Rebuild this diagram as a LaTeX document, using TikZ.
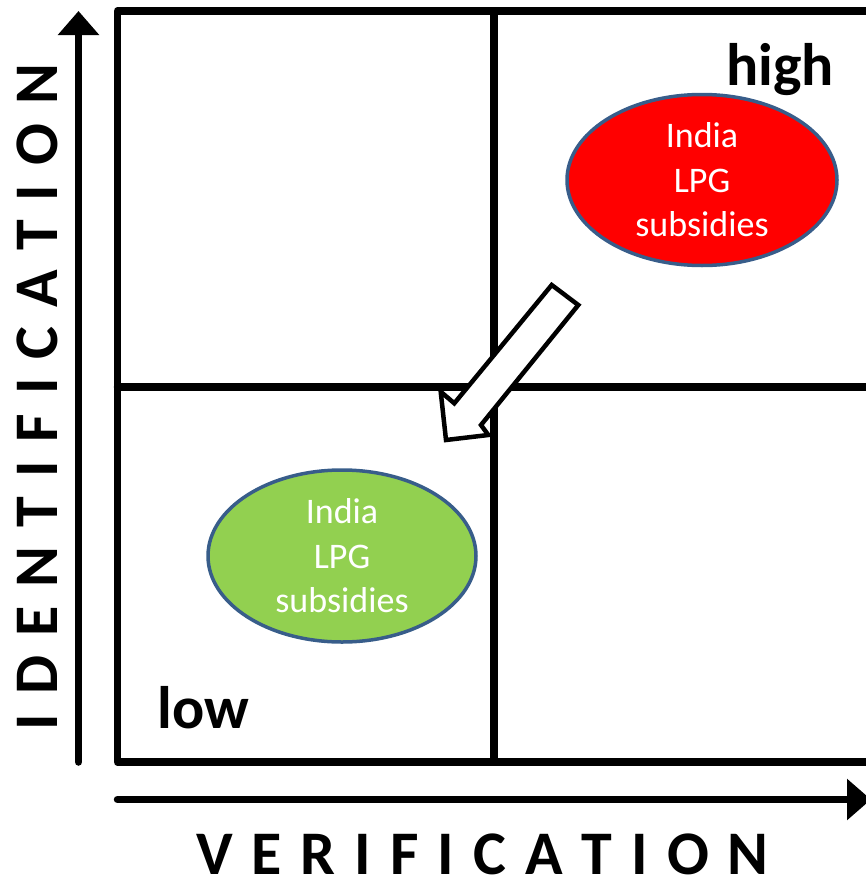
\documentclass[tikz,border=0pt]{standalone}
\usepackage{fontspec}
\setmainfont{Carlito}
\usetikzlibrary{arrows.meta,shapes.geometric}
\definecolor{redfill}{RGB}{255,0,0}
\definecolor{greenfill}{RGB}{146,208,80}
\definecolor{rimblue}{RGB}{56,93,138}
\newcommand{\lsp}{\hspace{19pt}}
\tikzset{
  gridline/.style={line width=7.5pt, line join=round, line cap=round},
  axisline/.style={line width=7.5pt, line cap=round, -{Triangle[width=40pt,length=24pt]}},
  blob/.style={ellipse, draw=rimblue, line width=3.5pt, inner sep=0pt, align=center,
    text=white, font=\fontsize{36}{44.5}\selectfont},
  levellabel/.style={anchor=base, inner sep=0pt, font=\fontsize{60}{60}\selectfont\bfseries},
  axislabel/.style={inner sep=0pt, font=\fontsize{62}{62}\selectfont\bfseries},
  hollow/.style={draw=black, fill=white, line width=4.5pt, line join=miter}
}
\begin{document}
\begin{tikzpicture}[x=1pt, y=-1pt]
\useasboundingbox (0,0) rectangle (866,878);
% grid
\draw[gridline] (880,11) -- (117.5,11) -- (117.5,762) -- (880,762);
\draw[gridline] (494,11) -- (494,762);
\draw[gridline] (117.5,387) -- (880,387);
% axes
\coordinate (ybase) at (78.5,762);
\coordinate (ytip) at (78.5,11);
\coordinate (xbase) at (117.5,799.5);
\coordinate (xtip) at (871,799.5);
\draw[axisline] (ybase) -- (ytip);
\draw[axisline] (xbase) -- (xtip);
% axis labels
\node[axislabel, rotate=90] (ident) at (37,397)
  {I\lsp D\lsp E\lsp N\lsp T\lsp I\lsp F\lsp I\lsp C\lsp A\lsp T\lsp I\lsp O\lsp N};
\node[axislabel] (verif) at (482.5,854)
  {V\lsp E\lsp R\lsp I\lsp F\lsp I\lsp C\lsp A\lsp T\lsp I\lsp O\lsp N};
% level labels
\node[levellabel] (high) at (780,85) {high};
\node[levellabel] (low) at (203.5,728) {low};
% ellipses
\node[blob, fill=redfill, minimum width=270pt, minimum height=171pt] (hi) at (702,180)
  {India\\LPG\\subsidies};
\node[blob, fill=greenfill, minimum width=268pt, minimum height=172pt] (lo) at (342,556)
  {India\\LPG\\subsidies};
% hollow block arrow
\coordinate (t1) at (551.7,285);
\coordinate (t2) at (578.3,305);
\coordinate (s2) at (481,425);
\coordinate (b2) at (488.3,435);
\coordinate (tip) at (446,440);
\coordinate (b1) at (440.7,391.7);
\coordinate (s1) at (454.3,403.3);
\draw[hollow] (t1) -- (t2) -- (s2) -- (b2) -- (tip) -- (b1) -- (s1) -- cycle;
\end{tikzpicture}
\end{document}
